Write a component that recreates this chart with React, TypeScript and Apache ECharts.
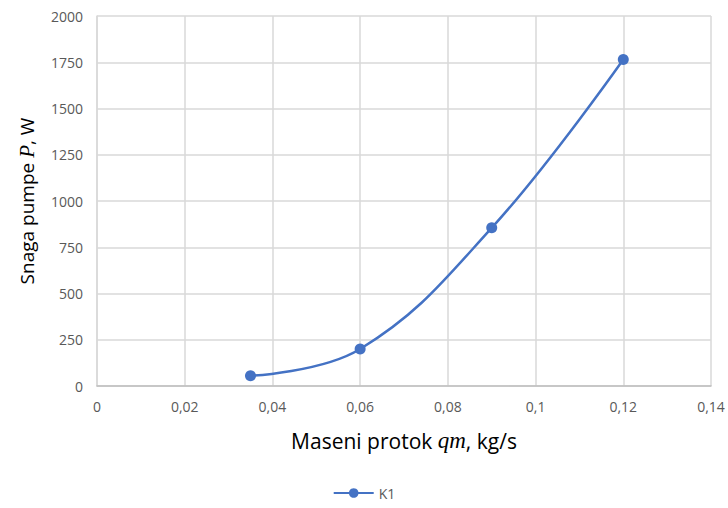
import React, { useEffect, useRef } from "react";
import * as echarts from "echarts";

const xValues = [0.035, 0.06, 0.09, 0.12];
const yValues = [55, 200, 855, 1765];
const seriesName = "K1";

export default function App() {
  const ref = useRef<HTMLDivElement>(null);
  useEffect(() => {
    const chart = echarts.init(ref.current!, null, { renderer: "svg" });
    const labelFont = "'Open Sans', sans-serif";
    chart.setOption({
      animation: false,
      backgroundColor: "#ffffff",
      grid: { left: 97, right: 17, top: 16, bottom: 122 },
      xAxis: {
        type: "value",
        min: 0,
        max: 0.14,
        interval: 0.02,
        name: "{a|Maseni protok }{i|qm}{a|, kg/s}",
        nameLocation: "middle",
        nameGap: 43,
        nameTextStyle: {
          rich: {
            a: { fontFamily: labelFont, fontSize: 21, color: "#000" },
            i: { fontFamily: "'Liberation Serif', serif", fontStyle: "italic", fontSize: 23, color: "#000" },
          },
        },
        axisLine: { show: true, lineStyle: { color: "#bfbfbf", width: 1.5 } },
        axisTick: { show: false },
        splitLine: { show: true, lineStyle: { color: "#d9d9d9", width: 1.5 } },
        axisLabel: {
          color: "#595959",
          fontFamily: labelFont,
          fontSize: 14,
          margin: 13,
          formatter: (v: number) => (v === 0 ? "0" : String(+v.toFixed(2)).replace(".", ",")),
        },
      },
      yAxis: {
        type: "value",
        min: 0,
        max: 2000,
        interval: 250,
        name: "{a|Snaga pumpe }{i|P}{a|, W}",
        nameLocation: "middle",
        nameGap: 60,
        nameTextStyle: {
          rich: {
            a: { fontFamily: labelFont, fontSize: 19, color: "#000" },
            i: { fontFamily: "'Liberation Serif', serif", fontStyle: "italic", fontSize: 21, color: "#000" },
          },
        },
        axisLine: { show: true, lineStyle: { color: "#d9d9d9", width: 1.5 } },
        axisTick: { show: false },
        splitLine: { show: true, lineStyle: { color: "#d9d9d9", width: 1.5 } },
        axisLabel: {
          color: "#595959",
          fontFamily: labelFont,
          fontSize: 14,
          margin: 14,
          formatter: (v: number) => String(v),
        },
      },
      legend: {
        bottom: 3,
        left: "center",
        data: [seriesName],
        itemWidth: 40,
        itemHeight: 12,
        textStyle: { color: "#595959", fontFamily: labelFont, fontSize: 14 },
      },
      series: [
        {
          name: seriesName,
          type: "line",
          smooth: 0.4,
          data: xValues.map((x, i) => [x, yValues[i]]),
          symbol: "circle",
          symbolSize: 11,
          itemStyle: { color: "#4472C4" },
          lineStyle: { color: "#4472C4", width: 2.5 },
        },
      ],
    });
    return () => chart.dispose();
  }, []);
  return <div ref={ref} style={{ width: 728, height: 508, position: "absolute", left: 0, top: 0 }} />;
}
